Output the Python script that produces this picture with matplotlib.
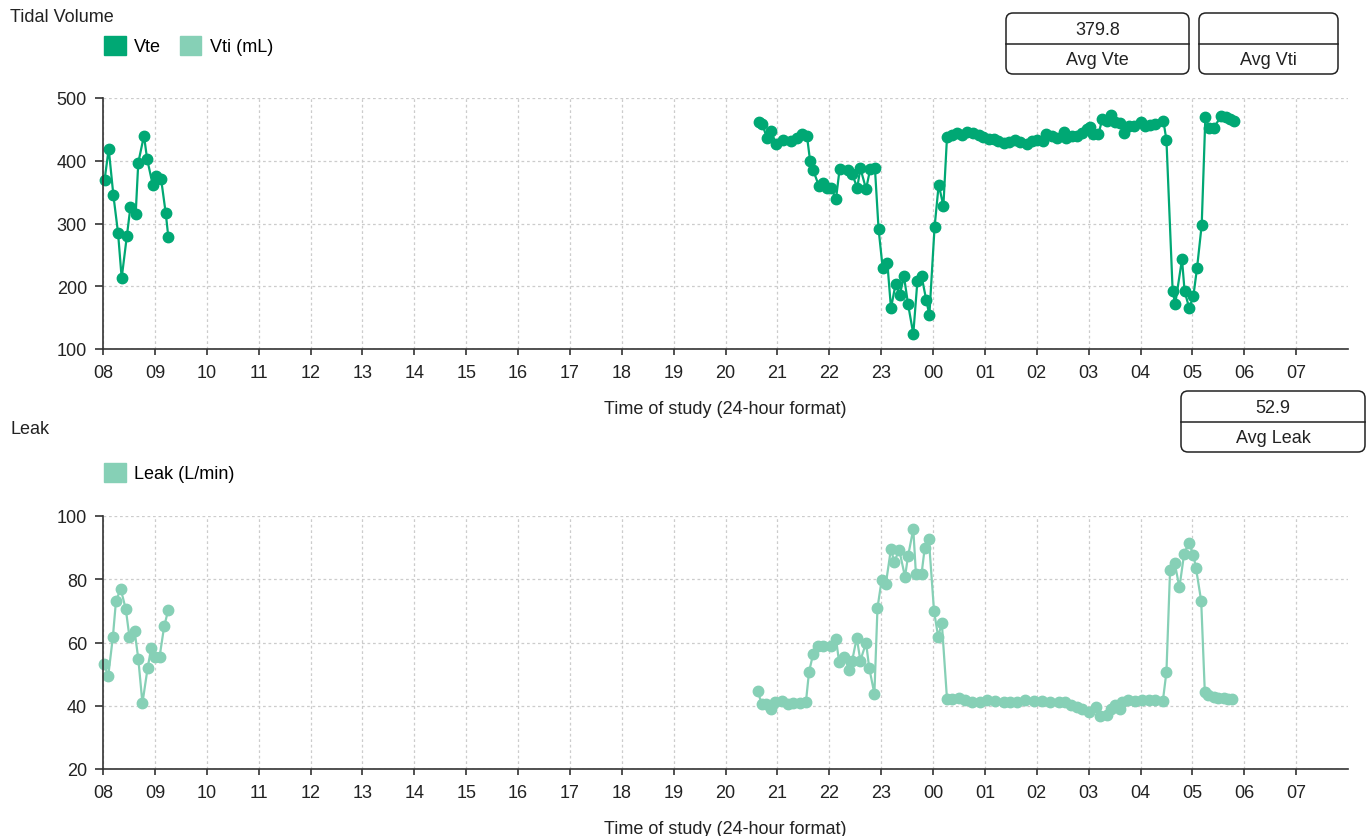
import numpy as np
import matplotlib
matplotlib.use('Agg')
import matplotlib.pyplot as plt
from matplotlib.patches import FancyBboxPatch, Patch

plt.rcParams['font.family'] = ['Liberation Sans', 'DejaVu Sans']

# time axis: hours elapsed since 08:00 on the study start
hour_labels = ['%02d' % ((8 + i) % 24) for i in range(24)]

vte_hours = [0.03, 0.11, 0.20, 0.29, 0.36, 0.46, 0.53, 0.63, 0.68, 0.79, 0.85, 0.96, 1.03, 1.12, 1.21, 1.26,
             12.64, 12.71, 12.80, 12.88, 12.97, 13.10, 13.26, 13.37, 13.48, 13.57, 13.63, 13.69, 13.80, 13.87,
             13.96, 14.04, 14.13, 14.20, 14.36, 14.44, 14.54, 14.60, 14.71, 14.79, 14.88, 14.95, 15.03, 15.12,
             15.19, 15.28, 15.36, 15.44, 15.52, 15.62, 15.70, 15.78, 15.87, 15.93, 16.03, 16.11, 16.20, 16.27,
             16.37, 16.46, 16.56, 16.66, 16.77, 16.88, 16.97, 17.07, 17.17, 17.26, 17.36, 17.46, 17.59, 17.68,
             17.81, 17.91, 18.00, 18.12, 18.18, 18.29, 18.39, 18.52, 18.56, 18.68, 18.77, 18.87, 18.97, 19.03,
             19.08, 19.19, 19.26, 19.35, 19.44, 19.51, 19.60, 19.69, 19.77, 19.87, 20.01, 20.09, 20.19, 20.28,
             20.44, 20.50, 20.62, 20.67, 20.80, 20.85, 20.94, 21.02, 21.09, 21.18, 21.25, 21.33, 21.41, 21.56,
             21.65, 21.73, 21.80]
vte_values = [369, 419, 345, 285, 213, 280, 327, 315, 397, 440, 403, 361, 376, 371, 316, 278,
              461, 458, 436, 448, 427, 433, 431, 436, 443, 440, 400, 385, 360, 364,
              356, 356, 339, 387, 385, 379, 357, 388, 355, 387, 389, 292, 229, 237,
              165, 204, 186, 216, 171, 124, 209, 216, 178, 154, 294, 362, 328, 438,
              441, 444, 441, 446, 444, 441, 438, 435, 434, 432, 428, 430, 433, 430,
              427, 431, 433, 432, 442, 440, 436, 446, 436, 439, 439, 444, 451, 454,
              442, 442, 466, 464, 473, 461, 460, 444, 456, 455, 461, 456, 457, 458,
              464, 433, 192, 172, 243, 192, 165, 185, 229, 298, 469, 452, 452, 472,
              469, 466, 464]

leak_hours = [0.02, 0.10, 0.19, 0.25, 0.34, 0.44, 0.51, 0.61, 0.68, 0.76, 0.86, 0.93, 1.01, 1.09, 1.18, 1.26,
              12.62, 12.70, 12.78, 12.87, 12.96, 13.08, 13.21, 13.31, 13.43, 13.55, 13.61, 13.69, 13.78, 13.88,
              14.04, 14.13, 14.19, 14.29, 14.38, 14.44, 14.53, 14.60, 14.71, 14.77, 14.87, 14.93, 15.01, 15.09,
              15.19, 15.25, 15.35, 15.46, 15.52, 15.62, 15.67, 15.78, 15.84, 15.92, 16.02, 16.10, 16.17, 16.27,
              16.37, 16.50, 16.61, 16.75, 16.91, 17.04, 17.20, 17.36, 17.49, 17.62, 17.78, 17.94, 18.10, 18.26,
              18.42, 18.55, 18.66, 18.77, 18.87, 19.00, 19.15, 19.22, 19.35, 19.44, 19.50, 19.61, 19.64, 19.76,
              19.90, 20.03, 20.16, 20.28, 20.43, 20.50, 20.57, 20.66, 20.75, 20.84, 20.93, 21.02, 21.07, 21.17,
              21.24, 21.31, 21.41, 21.50, 21.60, 21.68, 21.76]
leak_values = [53.2, 49.3, 61.7, 73.1, 77.0, 70.5, 61.7, 63.5, 54.9, 40.8, 51.9, 58.3, 55.4, 55.4, 65.2, 70.4,
               44.6, 40.5, 40.5, 38.9, 41.1, 41.4, 40.5, 40.8, 40.8, 41.1, 50.7, 56.4, 58.8, 58.8,
               59.0, 61.2, 53.8, 55.3, 51.4, 54.1, 61.5, 54.3, 59.9, 52.0, 43.8, 71.0, 79.7, 78.4,
               89.7, 85.5, 89.2, 80.8, 87.4, 95.9, 81.8, 81.8, 89.8, 92.7, 69.9, 61.8, 66.2, 42.1,
               42.2, 42.4, 41.9, 41.3, 41.3, 41.9, 41.5, 41.3, 41.1, 41.2, 41.7, 41.6, 41.4, 41.3,
               41.3, 41.1, 40.3, 39.6, 38.9, 37.9, 39.6, 36.8, 37.1, 38.9, 40.3, 38.9, 41.1, 41.9,
               41.4, 41.9, 41.9, 41.7, 41.4, 50.7, 83.0, 85.1, 77.4, 87.9, 91.6, 87.6, 83.5, 73.1,
               44.2, 43.3, 42.8, 42.4, 42.4, 42.2, 42.1]

avg_vte = '379.8'
avg_vti = ''
avg_leak = '52.9'

VTE_COLOR = '#00a874'
LIGHT_COLOR = '#86d0b6'
AXIS_COLOR = '#333333'
TEXT_COLOR = '#222222'
FS = 13


def with_gaps(x, y, max_gap=1.0):
    # break the line where recording stopped
    x = np.asarray(x, float)
    y = np.asarray(y, float)
    idx = np.where(np.diff(x) > max_gap)[0] + 1
    return np.insert(x, idx, np.nan), np.insert(y, idx, np.nan)


def setup_axes(ax, ymin, ymax, ystep):
    ax.set_xlim(0, 24)
    ax.set_ylim(ymin, ymax)
    ax.set_xticks(range(24))
    ax.set_xticklabels(hour_labels)
    ax.set_yticks(np.arange(ymin, ymax + 1, ystep))
    ax.grid(True, color='#cccccc', linestyle=(0, (2.2, 2.2)), linewidth=0.9)
    ax.set_axisbelow(True)
    for s in ['top', 'right']:
        ax.spines[s].set_visible(False)
    for s in ['left', 'bottom']:
        ax.spines[s].set_color(AXIS_COLOR)
        ax.spines[s].set_linewidth(1.2)
    ax.tick_params(colors=AXIS_COLOR, labelcolor=TEXT_COLOR, labelsize=FS, width=1.2)
    ax.tick_params(axis='y', length=5.5, pad=6)
    ax.tick_params(axis='x', length=4.5, pad=6)
    ax.set_xlabel('Time of study (24-hour format)', fontsize=FS, color=TEXT_COLOR, labelpad=14)


fig = plt.figure(figsize=(13.69, 8.37), dpi=100)
ax1 = fig.add_axes([103 / 1369, 1 - 350 / 837, 1245 / 1369, 251 / 837])
ax2 = fig.add_axes([103 / 1369, 1 - 770 / 837, 1245 / 1369, 253 / 837])

setup_axes(ax1, 100, 500, 100)
setup_axes(ax2, 20, 100, 20)

x, y = with_gaps(vte_hours, vte_values)
ax1.plot(x, y, '-o', color=VTE_COLOR, lw=1.6, ms=7.5, clip_on=False)
x, y = with_gaps(leak_hours, leak_values)
ax2.plot(x, y, '-o', color=LIGHT_COLOR, lw=1.6, ms=7.5, clip_on=False)

ax1.legend(handles=[Patch(color=VTE_COLOR, label='Vte'), Patch(color=LIGHT_COLOR, label='Vti (mL)')],
           loc='upper left', bbox_to_anchor=(104 / 1369, 1 - 37 / 837), bbox_transform=fig.transFigure,
           ncol=2, frameon=False, handlelength=1.2, handleheight=1.2, handletextpad=0.45,
           columnspacing=1.05, borderaxespad=0, borderpad=0, fontsize=FS)
ax2.legend(handles=[Patch(color=LIGHT_COLOR, label='Leak (L/min)')],
           loc='upper left', bbox_to_anchor=(104 / 1369, 1 - 464 / 837), bbox_transform=fig.transFigure,
           frameon=False, handlelength=1.2, handleheight=1.2, handletextpad=0.45,
           borderaxespad=0, borderpad=0, fontsize=FS)

# overlay in pixel units for titles and summary boxes
ov = fig.add_axes([0, 0, 1, 1], zorder=5)
ov.set_xlim(0, 1369)
ov.set_ylim(837, 0)
ov.axis('off')

ov.text(10, 17, 'Tidal Volume', fontsize=FS, color=TEXT_COLOR, va='center', ha='left')
ov.text(10, 430, 'Leak', fontsize=FS, color=TEXT_COLOR, va='center', ha='left')


def stat_box(x0, x1, y0, y1, value, label):
    box = FancyBboxPatch((x0, y0), x1 - x0, y1 - y0, boxstyle='round,pad=0,rounding_size=7',
                         facecolor='white', edgecolor=TEXT_COLOR, linewidth=1.1)
    ov.add_patch(box)
    ym = (y0 + y1) / 2
    ov.plot([x0, x1], [ym, ym], color=TEXT_COLOR, lw=1.1)
    xc = (x0 + x1) / 2
    ov.text(xc, (y0 + ym) / 2 + 1, value, fontsize=FS, ha='center', va='center', color=TEXT_COLOR)
    ov.text(xc, (ym + y1) / 2 + 1, label, fontsize=FS, ha='center', va='center', color=TEXT_COLOR)


stat_box(1006, 1189, 14, 75, avg_vte, 'Avg Vte')
stat_box(1199, 1338, 14, 75, avg_vti, 'Avg Vti')
stat_box(1181, 1365, 392, 453, avg_leak, 'Avg Leak')

fig.savefig('out.png', dpi=100)
